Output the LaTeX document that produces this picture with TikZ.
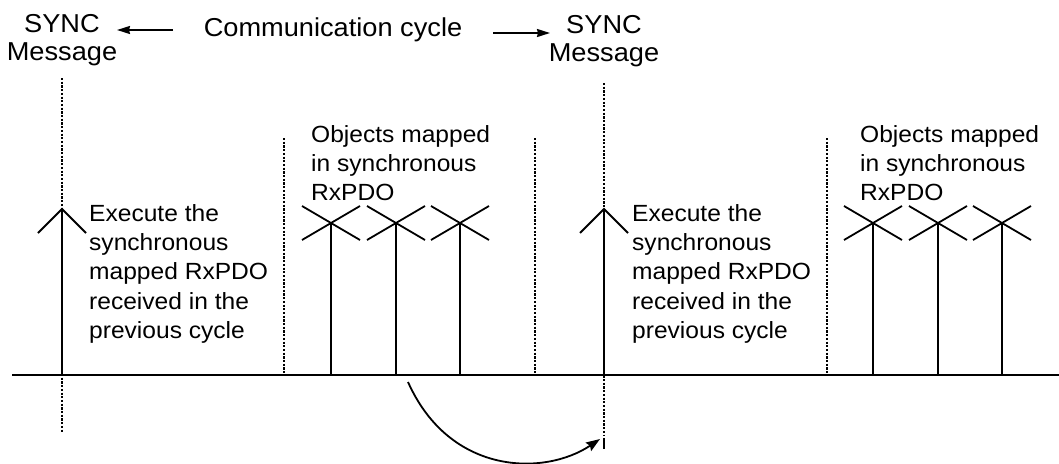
\documentclass[tikz,border=0pt]{standalone}
\usepackage{fontspec}
\setmainfont{Liberation Sans}[FakeStretch=1.05]
\usetikzlibrary{arrows.meta,calc}

\begin{document}
\begin{tikzpicture}[x=1pt,y=-1pt,>=Stealth,
   every node/.style={inner sep=0pt},
   head/.style={font=\fontsize{25.9}{28.5}\selectfont},
   note/.style={font=\fontsize{23.4}{29.3}\selectfont,align=left,anchor=north west},
   axis/.style={line width=2.2pt},
   tick/.style={line width=1.8pt},
   sep/.style={line width=1.8pt,dash pattern=on 2.2pt off 1.5pt}]
  \useasboundingbox (0,0) rectangle (1059,463);
  % headings
  \node[head,align=center,anchor=north] (syncL) at (62,14) {SYNC\\Message};
  \node[head,align=center,anchor=north] (syncR) at (604,15) {SYNC\\Message};
  \node[head,anchor=base] (cycle) at (333,36) {Communication cycle};
  \coordinate (cycLs) at (173,30);
  \coordinate (cycL) at (117,30);
  \coordinate (cycRs) at (493,33);
  \coordinate (cycR) at (550,33);
  \draw[tick,-{Stealth[length=13pt,width=8pt,inset=1pt]}] (cycLs) -- (cycL);
  \draw[tick,-{Stealth[length=13pt,width=8pt,inset=1pt]}] (cycRs) -- (cycR);
  % notes
  \node[note] (execL) at (89,204) {Execute the\\synchronous\\mapped RxPDO\\received in the\\previous cycle};
  \node[note] (execR) at (632,204) {Execute the\\synchronous\\mapped RxPDO\\received in the\\previous cycle};
  \node[note] (objL) at (311,125) {Objects mapped\\in synchronous\\RxPDO};
  \node[note] (objR) at (860,125) {Objects mapped\\in synchronous\\RxPDO};
  % time axis
  \coordinate (axL) at (12,375);
  \coordinate (axR) at (1059,375);
  % dotted marks
  \draw[sep] (62,78) -- (62,433);
  \draw[sep] (604,83) -- (604,436);
  \draw[tick] (604,438) -- (604,449);
  \foreach \x in {284,535,827}
    \draw[sep] (\x,138) -- (\x,375);
  \draw[axis] (axL) -- (axR);
  % SYNC arrows
  \coordinate (upL) at (62,209);
  \coordinate (upR) at (604,209);
  \foreach \s in {L,R} {
    \draw[tick] ($(up\s)+(-24,24)$) -- (up\s) -- ++(24,24);
    \draw[tick] (up\s) -- (up\s |- axL);
  }
  % received objects
  \foreach \x [count=\i] in {331,396,460,873,938,1002} {
    \coordinate (rx\i) at (\x,223);
    \draw[tick] ($(rx\i)+(-29,-17)$) -- ($(rx\i)+(29,17)$)
                ($(rx\i)+(-29,17)$) -- ($(rx\i)+(29,-17)$);
    \draw[tick] (rx\i) -- (rx\i |- axL);
  }
  % used in the next cycle
  \coordinate (late) at (408,382);
  \coordinate (next) at (600,439);
  \draw[tick,-{Stealth[length=14pt,width=10pt,inset=2pt]}] (late) .. controls +(42,94) and +(-55,37) .. (next);
\end{tikzpicture}
\end{document}
